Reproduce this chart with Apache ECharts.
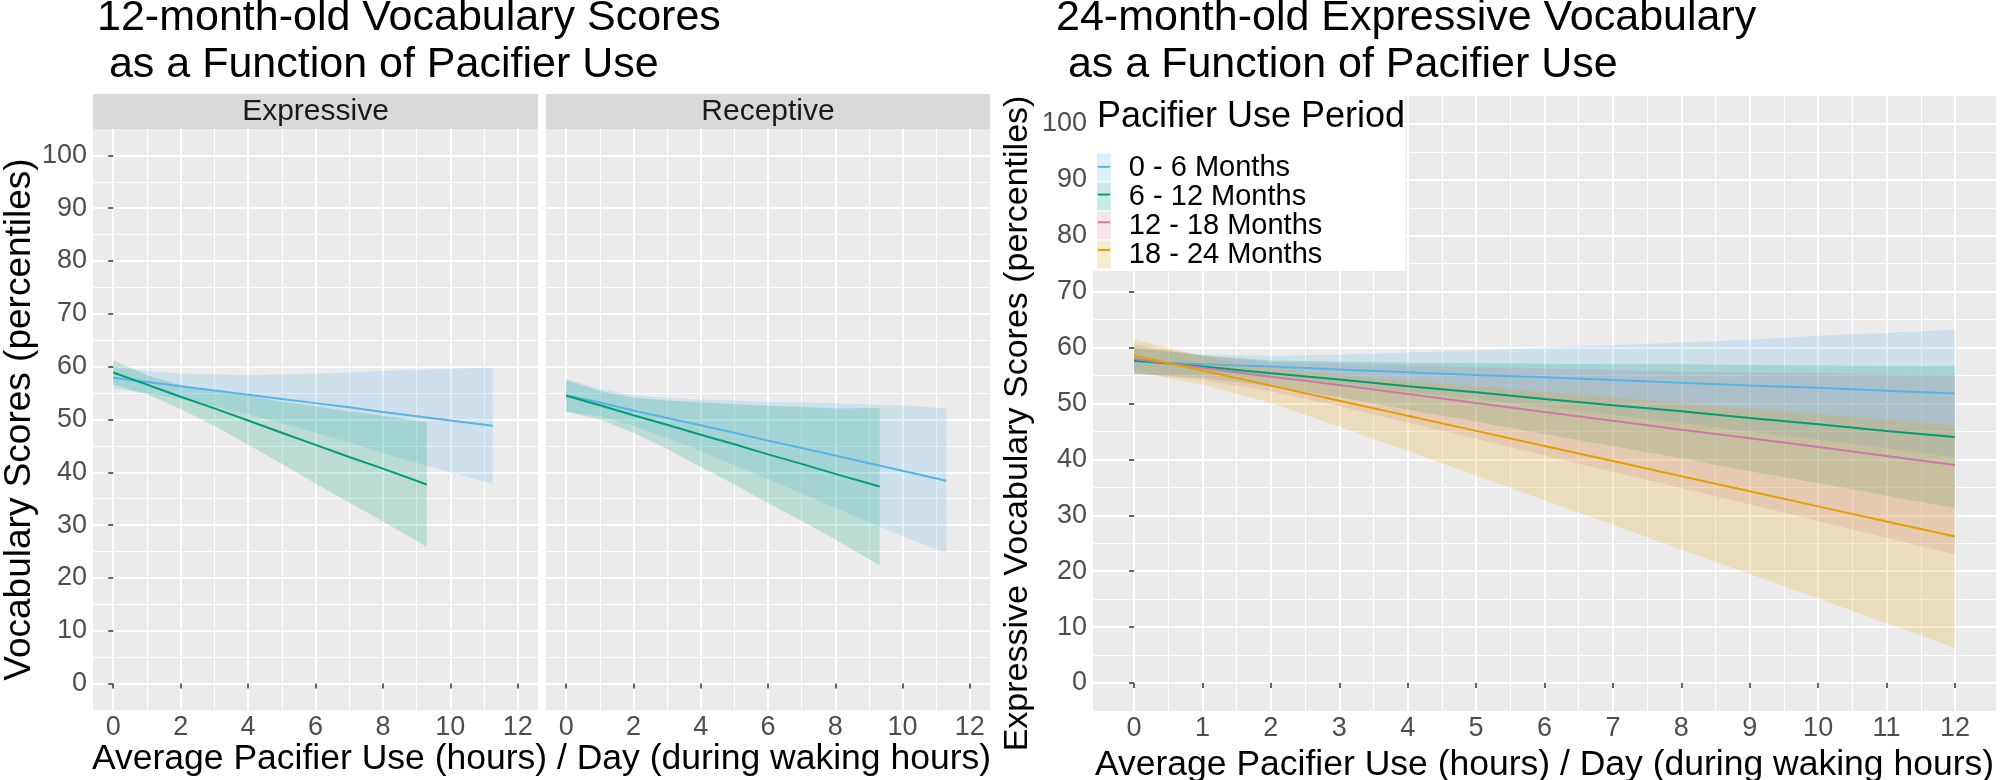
<!DOCTYPE html>
<html>
<head>
<meta charset="utf-8">
<script src="https://cdn.jsdelivr.net/npm/echarts@6/dist/echarts.min.js"></script>
<style>
html,body{margin:0;padding:0;background:#ffffff;}
#c{width:2000px;height:780px;}
</style>
</head>
<body>
<div id="c"></div>
<script>
// ---------------- DATA ----------------
const groupNames = ['0 - 6 Months', '6 - 12 Months', '12 - 18 Months', '18 - 24 Months'];
const panelNames = ['Expressive', 'Receptive'];

// tick labels
const xTicksLeft = [0, 2, 4, 6, 8, 10, 12];
const xMinorLeft = [1, 3, 5, 7, 9, 11];
const xTicksRight = [0, 1, 2, 3, 4, 5, 6, 7, 8, 9, 10, 11, 12];
const xMinorRight = [0.5, 1.5, 2.5, 3.5, 4.5, 5.5, 6.5, 7.5, 8.5, 9.5, 10.5, 11.5];
const yTicks = [0, 10, 20, 30, 40, 50, 60, 70, 80, 90, 100];
const yMinor = [5, 15, 25, 35, 45, 55, 65, 75, 85, 95];

// 12-month-old, Expressive panel
const exp06_x   = [0, 1, 2, 3, 4, 5, 6, 7, 8, 9, 10, 11.26];
const exp06_fit = [57.9, 57.1, 56.3, 55.5, 54.7, 53.9, 53.1, 52.3, 51.4, 50.6, 49.8, 48.8];
const exp06_hi  = [60.0, 59.2, 58.7, 58.5, 58.4, 58.5, 58.7, 58.9, 59.2, 59.4, 59.6, 59.8];
const exp06_lo  = [55.8, 55.0, 53.9, 52.5, 51.0, 49.3, 47.5, 45.7, 43.6, 41.8, 40.0, 37.8];

const exp612_x   = [0, 1, 2, 3, 4, 5, 6, 7, 8, 9.3];
const exp612_fit = [58.9, 56.6, 54.3, 52.1, 49.8, 47.5, 45.2, 42.9, 40.7, 37.7];
const exp612_hi  = [61.2, 58.4, 56.6, 55.4, 54.4, 53.4, 52.5, 51.5, 50.7, 49.5];
const exp612_lo  = [56.6, 54.8, 52.0, 48.8, 45.2, 41.6, 37.9, 34.3, 30.7, 25.9];

// 12-month-old, Receptive panel
const rec06_x   = [0, 1, 2, 3, 4, 5, 6, 7, 8, 9, 10, 11.3];
const rec06_fit = [54.6, 53.2, 51.7, 50.3, 48.9, 47.5, 46.0, 44.6, 43.2, 41.7, 40.3, 38.4];
const rec06_hi  = [57.7, 55.8, 54.6, 54.1, 53.8, 53.6, 53.3, 53.2, 53.1, 52.8, 52.7, 52.1];
const rec06_lo  = [51.5, 50.6, 48.8, 46.5, 44.0, 41.4, 38.7, 36.0, 33.3, 30.6, 27.9, 24.7];

const rec612_x   = [0, 1, 2, 3, 4, 5, 6, 7, 8, 9.32];
const rec612_fit = [54.5, 52.7, 50.8, 49.0, 47.1, 45.3, 43.4, 41.6, 39.7, 37.3];
const rec612_hi  = [57.5, 55.4, 54.1, 53.6, 53.2, 52.9, 52.6, 52.4, 52.1, 52.2];
const rec612_lo  = [51.5, 50.0, 47.5, 44.4, 41.0, 37.7, 34.2, 30.8, 27.3, 22.4];

// 24-month-old expressive vocabulary
const m24_x = [0, 1, 2, 3, 4, 5, 6, 7, 8, 9, 10, 11, 12];
const m24_06_fit  = [57.5, 57.0, 56.6, 56.1, 55.6, 55.1, 54.7, 54.2, 53.7, 53.2, 52.8, 52.3, 51.8];
const m24_06_hi   = [59.8, 58.8, 58.5, 58.7, 59.1, 59.5, 60.0, 60.4, 60.9, 61.4, 62.1, 62.6, 63.2];
const m24_06_lo   = [55.2, 55.2, 54.7, 53.5, 52.1, 50.7, 49.4, 48.0, 46.5, 45.0, 43.5, 42.0, 40.4];
const m24_612_fit = [57.7, 56.6, 55.4, 54.3, 53.1, 52.0, 50.8, 49.7, 48.6, 47.4, 46.3, 45.1, 44.0];
const m24_612_hi  = [60.1, 58.6, 57.7, 57.5, 57.3, 57.2, 57.1, 57.0, 57.0, 56.9, 56.8, 56.7, 56.7];
const m24_612_lo  = [55.3, 54.6, 53.1, 51.1, 48.9, 46.8, 44.5, 42.4, 40.2, 37.9, 35.8, 33.5, 31.3];
const m24_1218_fit = [58.0, 56.4, 54.8, 53.3, 51.7, 50.1, 48.5, 46.9, 45.3, 43.8, 42.2, 40.6, 39.0];
const m24_1218_hi  = [60.6, 58.6, 57.4, 57.1, 56.8, 56.5, 56.3, 56.0, 55.7, 55.6, 55.4, 55.2, 55.0];
const m24_1218_lo  = [55.4, 54.2, 52.2, 49.5, 46.6, 43.7, 40.7, 37.8, 34.9, 32.0, 29.0, 26.0, 23.0];
const m24_1824_fit = [58.6, 55.9, 53.2, 50.5, 47.8, 45.1, 42.4, 39.7, 37.0, 34.3, 31.6, 28.9, 26.2];
const m24_1824_hi  = [61.5, 58.4, 56.3, 55.1, 54.1, 53.1, 52.1, 51.1, 50.1, 49.1, 48.1, 47.1, 46.1];
const m24_1824_lo  = [55.7, 53.4, 50.1, 45.9, 41.5, 37.1, 32.7, 28.3, 23.9, 19.5, 15.1, 10.7, 6.3];

// ---------------- STYLE ----------------
const FONT = '"Liberation Sans", Arial, Helvetica, sans-serif';
const lineColors = ['#56B4E9', '#009E73', '#CC79A7', '#E69F00'];
const keyFills = ['#DDF0FB', '#CCECE3', '#F5E4ED', '#FAECCC'];
const RIBBON_ALPHA = 0.2;

function rgba(hex, a) {
  const n = parseInt(hex.slice(1), 16);
  return 'rgba(' + ((n >> 16) & 255) + ',' + ((n >> 8) & 255) + ',' + (n & 255) + ',' + a + ')';
}

function ribbonSeries(name, x, fit, lo, hi, color, axisIdx) {
  const rows = x.map((v, i) => [v, lo[i], hi[i]]);
  return [
    {
      type: 'custom', name: name + ' (95% CI)', coordinateSystem: 'cartesian2d',
      xAxisIndex: axisIdx, yAxisIndex: axisIdx,
      data: rows, encode: { x: 0, y: [1, 2] }, silent: true, animation: false,
      renderItem: function (params, api) {
        if (params.dataIndex !== 0) return;
        const upper = rows.map(r => api.coord([r[0], r[2]]));
        const lower = rows.slice().reverse().map(r => api.coord([r[0], r[1]]));
        return { type: 'polygon', shape: { points: upper.concat(lower) }, style: { fill: rgba(color, RIBBON_ALPHA) } };
      }
    },
    {
      type: 'line', name: name, xAxisIndex: axisIdx, yAxisIndex: axisIdx,
      data: x.map((v, i) => [v, fit[i]]),
      symbol: 'none', showSymbol: false,
      lineStyle: { color: color, width: 2 }, itemStyle: { color: color },
      silent: true, emphasis: { disabled: true }
    }
  ];
}

function axisPair(gi, min, max, majorVals, minorVals, isX, extra) {
  const major = Object.assign({
    type: 'value', gridIndex: gi, min: min, max: max,
    axisLine: { show: false },
    axisTick: { show: true, customValues: majorVals, length: 5, lineStyle: { color: '#333333', width: 1.5 } },
    axisLabel: { show: true, customValues: majorVals, fontSize: 27, color: '#4D4D4D', fontFamily: FONT, margin: isX ? 4 : 6 },
    splitLine: { show: true, lineStyle: { color: '#FFFFFF', width: 2 } },
    minorTick: { show: false }, minorSplitLine: { show: false }
  }, extra || {});
  const minor = {
    type: 'value', gridIndex: gi, min: min, max: max,
    axisLine: { show: false },
    axisTick: { show: false, customValues: minorVals },
    axisLabel: { show: false, customValues: minorVals },
    splitLine: { show: true, lineStyle: { color: '#FFFFFF', width: 1 } }
  };
  return [major, minor];
}

const X_TITLE = { fontSize: 35.5, color: '#000000', fontFamily: FONT };

const xAxes = [].concat(
  axisPair(0, -0.6, 12.6, xTicksLeft, xMinorLeft, true),
  axisPair(1, -0.6, 12.6, xTicksLeft, xMinorLeft, true),
  axisPair(2, -0.6, 12.6, xTicksRight, xMinorRight, true, {
    name: 'Average Pacifier Use (hours) / Day (during waking hours)',
    nameLocation: 'middle', nameGap: 31, nameTextStyle: X_TITLE
  })
);
const yAxes = [].concat(
  axisPair(0, -5, 105, yTicks, yMinor, false, {
    name: 'Vocabulary Scores (percentiles)', nameLocation: 'middle', nameGap: 55, nameRotate: 90,
    nameTextStyle: { fontSize: 37, color: '#000000', fontFamily: FONT }
  }),
  axisPair(1, -5, 105, yTicks, yMinor, false, { axisLabel: { show: false, customValues: yTicks }, axisTick: { show: false, customValues: yTicks } }),
  axisPair(2, -5, 105, yTicks, yMinor, false, {
    name: 'Expressive Vocabulary Scores (percentiles)', nameLocation: 'middle', nameGap: 58, nameRotate: 90,
    nameTextStyle: { fontSize: 34, color: '#000000', fontFamily: FONT, padding: [0, 40, 0, 0] }
  })
);

// major axis indices: grid0 -> 0, grid1 -> 2, grid2 -> 4
const series = [].concat(
  ribbonSeries('Expressive: ' + groupNames[0], exp06_x, exp06_fit, exp06_lo, exp06_hi, lineColors[0], 0),
  ribbonSeries('Expressive: ' + groupNames[1], exp612_x, exp612_fit, exp612_lo, exp612_hi, lineColors[1], 0),
  ribbonSeries('Receptive: ' + groupNames[0], rec06_x, rec06_fit, rec06_lo, rec06_hi, lineColors[0], 2),
  ribbonSeries('Receptive: ' + groupNames[1], rec612_x, rec612_fit, rec612_lo, rec612_hi, lineColors[1], 2),
  ribbonSeries(groupNames[0], m24_x, m24_06_fit, m24_06_lo, m24_06_hi, lineColors[0], 4),
  ribbonSeries(groupNames[1], m24_x, m24_612_fit, m24_612_lo, m24_612_hi, lineColors[1], 4),
  ribbonSeries(groupNames[2], m24_x, m24_1218_fit, m24_1218_lo, m24_1218_hi, lineColors[2], 4),
  ribbonSeries(groupNames[3], m24_x, m24_1824_fit, m24_1824_lo, m24_1824_hi, lineColors[3], 4)
);

const legendBase = {
  orient: 'vertical', left: 1093, top: 96, itemGap: 0, itemWidth: 27, itemHeight: 27.7,
  selectedMode: false, padding: [57, 83, 2, 4],
  textStyle: { fontSize: 29, lineHeight: 27.7, color: '#000000', fontFamily: FONT }
};

const TITLE_STYLE = { fontSize: 43, lineHeight: 47, fontWeight: 'normal', color: '#000000', fontFamily: FONT };

const option = {
  animation: false,
  backgroundColor: '#FFFFFF',
  textStyle: { fontFamily: FONT },
  title: [
    { text: '12-month-old Vocabulary Scores\n as a Function of Pacifier Use', left: 97, top: -5, padding: 0, textStyle: TITLE_STYLE },
    { text: '24-month-old Expressive Vocabulary\n as a Function of Pacifier Use', left: 1056, top: -5, padding: 0, textStyle: TITLE_STYLE },
    { text: 'Pacifier Use Period', left: 1097, top: 100, padding: 0, z: 10,
      textStyle: { fontSize: 36, lineHeight: 35, fontWeight: 'normal', color: '#000000', fontFamily: FONT } }
  ],
  legend: [
    Object.assign({}, legendBase, {
      backgroundColor: '#FFFFFF', z: 5,
      data: groupNames.map((n, i) => ({ name: n, icon: 'path://M27,28 M0,0 L14,0 L14,28 L0,28 Z', itemStyle: { color: keyFills[i], borderWidth: 0 } }))
    }),
    Object.assign({}, legendBase, {
      backgroundColor: 'transparent', z: 6, formatter: function () { return ''; },
      data: groupNames.map((n, i) => ({ name: n, icon: 'path://M0,0 M27,28 M1,13 L13,13 L13,15 L1,15 Z', itemStyle: { color: lineColors[i], borderWidth: 0 } }))
    })
  ],
  grid: [
    { left: 93, top: 129, width: 445, height: 581, show: true, backgroundColor: '#EBEBEB', borderWidth: 0, containLabel: false, outerBoundsMode: 'none' },
    { left: 546, top: 129, width: 444, height: 581, show: true, backgroundColor: '#EBEBEB', borderWidth: 0, containLabel: false, outerBoundsMode: 'none' },
    { left: 1093, top: 96, width: 903, height: 615, show: true, backgroundColor: '#EBEBEB', borderWidth: 0, containLabel: false, outerBoundsMode: 'none' }
  ],
  xAxis: xAxes,
  yAxis: yAxes,
  graphic: [
    { type: 'rect', shape: { x: 93, y: 94, width: 445, height: 35 }, style: { fill: '#D9D9D9' }, silent: true },
    { type: 'rect', shape: { x: 546, y: 94, width: 444, height: 35 }, style: { fill: '#D9D9D9' }, silent: true },
    { type: 'text', x: 315.5, y: 112, silent: true,
      style: { text: panelNames[0], fontSize: 30, fontFamily: FONT, fill: '#1A1A1A', align: 'center', verticalAlign: 'middle' } },
    { type: 'text', x: 768, y: 112, silent: true,
      style: { text: panelNames[1], fontSize: 30, fontFamily: FONT, fill: '#1A1A1A', align: 'center', verticalAlign: 'middle' } },
    { type: 'text', x: 541.5, y: 759.5, silent: true,
      style: { text: 'Average Pacifier Use (hours) / Day (during waking hours)', fontSize: 35.5, fontFamily: FONT, fill: '#000000', align: 'center', verticalAlign: 'middle' } }
  ],
  series: series
};

const chart = echarts.init(document.getElementById('c'), null, { renderer: 'canvas', width: 2000, height: 780 });
chart.setOption(option);
</script>
</body>
</html>
